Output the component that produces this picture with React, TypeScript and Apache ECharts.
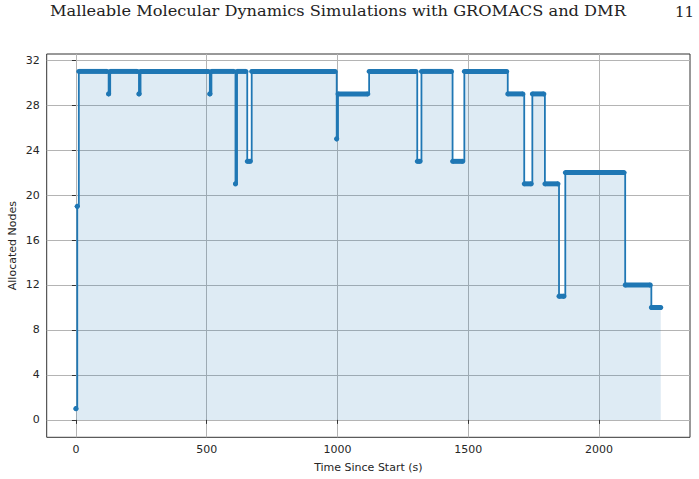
import React, { useEffect, useRef } from "react";
import * as echarts from "echarts";

// Each run is a stretch of samples with a constant node allocation:
// first sample time (s), last sample time (s) and number of nodes.
const runStart = [0, 5, 11, 125, 131, 241, 247, 512, 518, 610, 616, 655, 672, 997, 1002, 1121, 1305, 1321, 1440, 1485, 1651, 1714, 1745, 1793, 1847, 1871, 2100, 2200];
const runEnd = [0, 5, 119, 125, 235, 241, 506, 512, 604, 610, 650, 667, 991, 997, 1116, 1300, 1316, 1436, 1479, 1647, 1709, 1741, 1789, 1843, 1866, 2096, 2196, 2236];
const runNodes = [1, 19, 31, 29, 31, 29, 31, 29, 31, 21, 31, 23, 31, 25, 29, 31, 23, 31, 23, 31, 29, 21, 29, 21, 11, 22, 12, 10];

const xTicks = [0, 500, 1000, 1500, 2000];
const yTicks = [0, 4, 8, 12, 16, 20, 24, 28, 32];

const BLUE = "#1f77b4";

export default function App() {
  const ref = useRef<HTMLDivElement>(null);

  useEffect(() => {
    const chart = echarts.init(ref.current!, null, { renderer: "svg" });

    const last = runStart.length - 1;
    const stepPoints = runStart.map((t, i) => [t, runNodes[i]]);
    stepPoints.push([runEnd[last], runNodes[last]]);
    const runs = runStart.map((t, i) => [t, runEnd[i], runNodes[i]]);

    const tMax = runEnd[last];
    const yMax = Math.max(...runNodes);
    const padX = tMax * 0.05;
    const padY = yMax * 0.05;

    const tickFont = {
      fontFamily: "DejaVu Sans",
      fontSize: 11,
      color: "#262626",
    };
    const plain = (v: number) => String(v);

    chart.setOption({
      animation: false,
      grid: {
        left: 46.7,
        right: 9,
        top: 54,
        bottom: 41.7,
        outerBoundsMode: "none",
        containLabel: false,
        show: true,
        borderColor: "#333",
        borderWidth: 1,
        backgroundColor: "transparent",
      },
      xAxis: {
        type: "value",
        min: -padX,
        max: tMax + padX,
        name: "Time Since Start (s)",
        nameLocation: "middle",
        nameGap: 25,
        nameMoveOverlap: false,
        nameTextStyle: { ...tickFont },
        axisLine: { show: false },
        axisTick: {
          show: true,
          length: 4,
          customValues: xTicks,
          lineStyle: { color: "#333" },
        },
        axisLabel: { ...tickFont, margin: 7, customValues: xTicks, formatter: plain },
        splitLine: { show: true, lineStyle: { color: "#b4b4b4", width: 1 } },
      },
      yAxis: {
        type: "value",
        min: -padY,
        max: yMax + padY,
        name: "Allocated Nodes",
        nameLocation: "middle",
        nameRotate: 90,
        nameGap: 29,
        nameMoveOverlap: false,
        nameTextStyle: { ...tickFont },
        axisLine: { show: false },
        axisTick: {
          show: true,
          length: 4,
          customValues: yTicks,
          lineStyle: { color: "#333" },
        },
        axisLabel: { ...tickFont, margin: 7, customValues: yTicks, formatter: plain },
        splitLine: { show: true, lineStyle: { color: "#b4b4b4", width: 1 } },
      },
      series: [
        {
          type: "line",
          step: "end",
          data: stepPoints,
          symbol: "none",
          lineStyle: { color: BLUE, width: 1.8 },
          areaStyle: { color: "rgba(31,119,180,0.21)", origin: 0 },
          z: 2,
        },
        {
          type: "custom",
          data: runs,
          z: 3,
          renderItem: (_params: any, api: any) => {
            const v = api.value(2);
            const a = api.coord([api.value(0), v]);
            const b = api.coord([api.value(1), v]);
            const style = { fill: BLUE };
            return {
              type: "group",
              children: [
                { type: "circle", shape: { cx: a[0], cy: a[1], r: 2.5 }, style },
                { type: "circle", shape: { cx: b[0], cy: b[1], r: 2.5 }, style },
                {
                  type: "rect",
                  shape: { x: a[0], y: a[1] - 2.5, width: b[0] - a[0], height: 5 },
                  style,
                },
              ],
            };
          },
        },
      ],
      graphic: [
        {
          type: "text",
          x: 50,
          y: 4,
          scaleX: 1.08,
          style: {
            text: "Malleable Molecular Dynamics Simulations with GROMACS and DMR",
            font: '15px "DejaVu Serif"',
            fill: "#222",
          },
        },
        {
          type: "text",
          x: 675,
          y: 4,
          style: {
            text: "11",
            font: '15px "DejaVu Serif"',
            fill: "#222",
          },
        },
      ],
    });

    return () => chart.dispose();
  }, []);

  return (
    <div
      ref={ref}
      style={{ position: "absolute", left: 0, top: 0, width: 699, height: 479 }}
    />
  );
}
